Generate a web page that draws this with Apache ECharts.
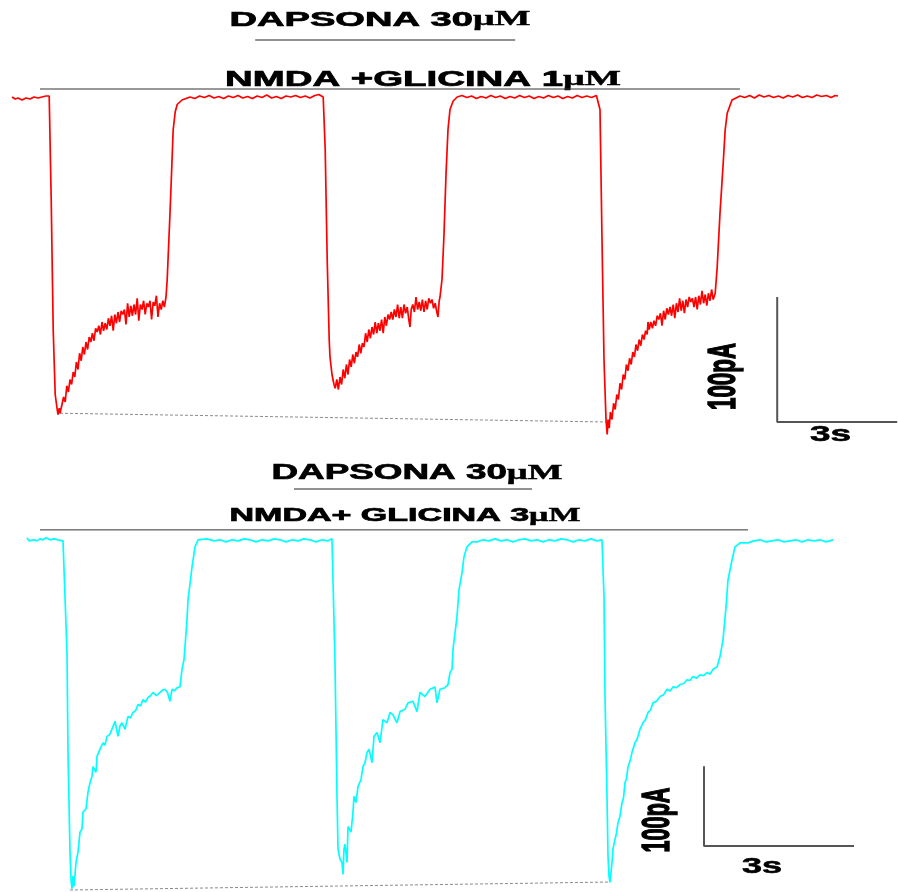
<!DOCTYPE html>
<html>
<head>
<meta charset="utf-8">
<script src="https://cdn.jsdelivr.net/npm/echarts@6/dist/echarts.min.js"></script>
<style>html,body{margin:0;padding:0;background:#fff;}#c{width:898px;height:892px;}</style>
</head>
<body>
<div id="c"></div>
<script>
// ---- data: time (s), current (pA) ----
const redTrace = [
[0,0],[0.08,-1.6],[0.15,-0.8],[0.25,-2.4],[0.35,-0.8],[0.45,-1.6],[0.55,0],[0.65,-0.8],[0.75,0],[0.85,0.8],[0.9,1.6],[0.93,0.8],
[0.98,-82],[1.03,-186],[1.08,-238],[1.13,-250],[1.15,-254],[1.18,-249],[1.2,-253],
[1.25,-246],[1.29,-240],[1.33,-244],[1.37,-231],[1.41,-236],[1.45,-226],[1.49,-230],[1.53,-220],[1.57,-224],[1.61,-212],[1.65,-218],
[1.69,-205],[1.73,-211],[1.77,-200],[1.81,-206],[1.85,-196],[1.89,-202],[1.93,-192],[1.97,-196],[2.01,-189],[2.05,-195],[2.09,-185],
[2.13,-188],[2.17,-183],[2.21,-190],[2.25,-180],[2.29,-187],[2.33,-181],[2.37,-186],[2.41,-177],[2.45,-183],[2.49,-175],[2.53,-187],
[2.57,-174],[2.61,-181],[2.65,-172],[2.69,-180],[2.73,-171],[2.77,-174],[2.81,-170],[2.85,-182],[2.89,-165],[2.93,-176],[2.97,-167],
[3.01,-175],[3.05,-166],[3.09,-174],[3.13,-161],[3.17,-179],[3.21,-166],[3.25,-170],[3.29,-163],[3.33,-174],[3.37,-165],[3.41,-168],
[3.45,-163],[3.49,-178],[3.53,-164],[3.57,-167],[3.61,-159],[3.65,-176],[3.69,-165],[3.73,-170],[3.77,-163],[3.81,-168],[3.85,-160],
[3.88,-146],[3.95,-93],[4.03,-26],[4.08,-12],[4.13,-6],[4.25,-2.4],
[4.45,0],[4.57,-1.2],[4.69,0.8],[4.81,-0.4],[4.93,1.2],[5.05,-0.8],[5.17,0.4],[5.29,-1.2],[5.41,0.8],[5.53,-0.4],[5.65,1.2],[5.77,-0.8],
[5.89,0.4],[6.01,-1.2],[6.13,0.8],[6.25,-0.4],[6.37,1.6],[6.49,-0.8],[6.61,0.4],[6.73,-1.2],[6.85,0.8],[6.97,0],[7.09,1.2],[7.21,-0.4],
[7.33,0.8],[7.45,-0.8],[7.57,1.2],[7.67,2],[7.78,0],
[7.83,-42],[7.88,-130],[7.93,-194],[7.95,-208],[8.0,-222],[8.05,-230],
[8.08,-233],[8.12,-226],[8.16,-234],[8.2,-224],[8.24,-230],[8.28,-218],[8.32,-225],[8.36,-214],[8.4,-222],[8.44,-210],[8.48,-216],
[8.52,-206],[8.56,-213],[8.6,-204],[8.64,-208],[8.68,-198],[8.72,-205],[8.76,-197],[8.8,-200],[8.84,-189],[8.88,-196],[8.92,-186],
[8.96,-193],[9.0,-184],[9.04,-190],[9.08,-180],[9.12,-189],[9.16,-181],[9.2,-187],[9.24,-178],[9.28,-189],[9.32,-176],[9.36,-183],
[9.4,-174],[9.44,-178],[9.48,-172],[9.52,-178],[9.56,-170],[9.6,-176],[9.64,-166],[9.68,-177],[9.72,-168],[9.76,-177],[9.8,-166],
[9.84,-173],[9.88,-168],[9.92,-178],[9.95,-184],[9.98,-170],[10.02,-166],[10.06,-172],[10.1,-160],[10.14,-170],[10.18,-164],[10.22,-171],
[10.26,-162],[10.3,-172],[10.34,-163],[10.38,-170],[10.42,-161],[10.46,-165],[10.5,-162],[10.54,-169],[10.58,-165],[10.62,-172],
[10.65,-176],[10.68,-163],[10.7,-160],
[10.75,-146],[10.8,-110],[10.85,-62],[10.9,-26],[10.95,-10],[11.03,-3.2],
[11.13,0],[11.25,1.2],[11.37,-0.4],[11.49,0.8],[11.61,-1.2],[11.73,0.4],[11.85,-0.8],[11.97,1.2],[12.09,-0.4],[12.21,0.8],[12.33,-1.2],
[12.45,0.4],[12.57,-0.8],[12.69,1.2],[12.81,-0.4],[12.93,0.8],[13.05,-1.2],[13.17,0.4],[13.29,-0.8],[13.41,1.2],[13.53,-0.4],[13.65,0.8],
[13.77,-1.2],[13.89,0.4],[14.01,-0.8],[14.13,1.2],[14.25,-0.4],[14.37,0.8],[14.49,-0.4],[14.61,1.2],[14.66,0.8],
[14.7,-10],[14.75,-114],[14.8,-210],[14.85,-258],
[14.88,-270],[14.9,-258],[14.93,-265],[14.96,-252],[15.0,-258],[15.04,-245],[15.08,-250],[15.12,-238],[15.16,-242],[15.2,-229],
[15.24,-234],[15.28,-222],[15.32,-226],[15.36,-214],[15.4,-219],[15.44,-209],[15.48,-214],[15.52,-204],[15.56,-208],[15.6,-198],
[15.64,-203],[15.68,-194],[15.72,-199],[15.76,-190],[15.8,-194],[15.84,-187],[15.88,-190],[15.9,-180],[15.93,-186],[15.97,-180],
[16.01,-185],[16.05,-179],[16.09,-183],[16.13,-175],[16.17,-178],[16.21,-173],[16.25,-183],[16.29,-171],[16.33,-178],[16.37,-169],
[16.41,-174],[16.45,-168],[16.49,-175],[16.53,-166],[16.57,-177],[16.61,-165],[16.65,-172],[16.69,-161],[16.73,-171],[16.77,-163],
[16.81,-173],[16.85,-162],[16.89,-168],[16.93,-160],[16.97,-164],[17.01,-161],[17.05,-168],[17.09,-160],[17.13,-170],[17.17,-159],
[17.21,-166],[17.25,-155],[17.29,-165],[17.33,-158],[17.37,-167],[17.41,-157],[17.45,-163],[17.49,-154],[17.53,-162],[17.58,-157],
[17.63,-136],[17.7,-93],[17.78,-53],[17.83,-26],[17.88,-13],[18,-2.4],
[18.2,0.8],[18.32,-0.4],[18.44,1.2],[18.56,-0.8],[18.68,1.6],[18.8,0],[18.92,1.2],[19.04,-0.4],[19.16,0.8],[19.28,-0.8],[19.4,1.2],
[19.52,0],[19.64,1.6],[19.76,-0.4],[19.88,0.8],[20.0,-0.4],[20.12,1.6],[20.24,0.4],[20.36,1.2],[20.48,-0.4],[20.58,1.2],[20.65,0.8]
];
const cyanTrace = [
[0.3,3.8],[0.34,0],[0.38,-2.5],[0.44,1.3],[0.5,0],[0.56,2.5],[0.62,1.3],[0.68,3.8],[0.76,1.3],[0.84,2.5],[0.92,1.3],[1.02,0],
[1.1,-140],[1.12,-265],[1.16,-390],[1.18,-424],[1.2,-436],[1.22,-420],[1.24,-433],[1.28,-403],[1.32,-390],[1.36,-365],[1.4,-361],[1.42,-340],
[1.48,-336],[1.52,-315],[1.56,-303],[1.6,-295],[1.62,-283],[1.68,-290],[1.7,-270],[1.76,-261],[1.82,-253],[1.86,-256],[1.9,-245],[1.95,-243],
[2,-236],[2.06,-226],[2.12,-245],[2.16,-232],[2.2,-228],[2.26,-236],[2.32,-220],[2.37,-222],[2.42,-215],[2.47,-213],[2.52,-205],[2.57,-207],
[2.62,-199],[2.67,-202],[2.72,-196],[2.77,-194],[2.82,-190],[2.89,-194],[2.96,-190],[3.01,-187],[3.06,-186],[3.11,-190],[3.16,-201],
[3.2,-186],[3.25,-188],[3.3,-184],[3.33,-186],[3.36,-183],
[3.4,-161],[3.44,-149],[3.5,-99],[3.52,-74],[3.6,-33],[3.66,-7.5],[3.72,1.3],[3.9,2.5],
[4.04,0],[4.16,1.3],[4.28,-1.3],[4.4,1.3],[4.52,0],[4.64,2.5],[4.76,1.3],[4.88,-1.3],[5.0,1.3],[5.12,0],[5.24,2.5],[5.36,1.3],[5.48,-1.3],
[5.6,1.3],[5.72,0],[5.84,2.5],[5.96,1.3],[6.08,-1.3],[6.2,1.3],[6.32,0],[6.4,2.5],
[6.42,0],[6.46,-153],[6.5,-320],[6.52,-386],[6.56,-399],[6.6,-403],[6.62,-418],[6.64,-386],[6.66,-380],[6.7,-403],[6.72,-358],[6.78,-365],
[6.82,-340],[6.84,-320],[6.88,-328],[6.92,-308],[6.98,-299],[7.02,-283],[7.06,-278],[7.1,-265],[7.14,-261],[7.2,-278],[7.24,-245],[7.3,-240],
[7.36,-253],[7.42,-224],[7.5,-228],[7.56,-215],[7.62,-218],[7.7,-228],[7.76,-214],[7.86,-211],[7.92,-203],[8.02,-201],[8.1,-214],[8.16,-190],
[8.26,-195],[8.36,-186],[8.46,-183],[8.5,-203],[8.56,-186],[8.66,-184],[8.72,-180],
[8.76,-165],[8.8,-161],[8.82,-136],[8.9,-95],[8.94,-61],[9,-40],[9.04,-20],[9.1,-7.5],[9.2,-1.3],[9.3,-1.3],
[9.42,1.3],[9.54,0],[9.66,2.5],[9.78,0],[9.9,1.3],[10.02,-1.3],[10.14,1.3],[10.26,2.5],[10.38,0],[10.5,1.3],[10.62,-1.3],[10.74,1.3],
[10.86,0],[10.98,2.5],[11.1,1.3],[11.22,-1.3],[11.34,1.3],[11.46,0],[11.58,2.5],[11.7,0],[11.8,1.3],
[11.82,0],[11.84,-70],[11.86,-195],[11.9,-320],[11.92,-395],[11.94,-420],[11.96,-428],[12,-403],[12.02,-386],[12.06,-374],[12.09,-366],
[12.12,-353],[12.16,-345],[12.2,-328],[12.23,-322],[12.26,-303],[12.29,-298],[12.32,-283],[12.36,-276],[12.4,-265],[12.46,-253],[12.5,-249],
[12.56,-236],[12.59,-238],[12.62,-228],[12.67,-224],[12.72,-215],[12.77,-212],[12.82,-203],[12.89,-201],[12.96,-195],[13.03,-193],[13.1,-186],
[13.16,-188],[13.22,-183],[13.29,-184],[13.36,-180],[13.43,-179],[13.5,-174],[13.56,-175],[13.62,-170],[13.69,-172],[13.76,-168],[13.83,-169],
[13.9,-165],[13.96,-167],[14.02,-161],[14.1,-158],
[14.16,-145],[14.22,-124],[14.28,-83],[14.32,-49],[14.4,-24],[14.46,-7.5],[14.56,-2.5],[14.72,-2.5],
[14.84,0],[14.96,1.3],[15.08,-1.3],[15.2,0],[15.32,1.3],[15.44,-1.3],[15.56,0],[15.68,1.3],[15.8,-1.3],[15.92,1.3],[16.04,0],
[16.16,1.3],[16.28,-1.3],[16.42,1.3]
];
const redPeakLine = [[1.2,-253],[14.88,-260]];
const cyanPeakLine = [[1.16,-437.5],[11.96,-427.5]];
const redDapsonaBar = [[6.08,45.6],[12.58,45.6]];
const redNmdaBar = [[0.7,6.4],[18.2,6.4]];
const cyanDapsonaBar = [[5.64,65],[10.4,65]];
const cyanNmdaBar = [[0.56,13.75],[14.72,13.75]];
const redScaleBar = [[19.13,-160],[19.13,-260],[22.13,-260]];
const cyanScaleBar = [[13.84,-282.5],[13.84,-382.5],[16.84,-382.5]];
const titleTexts = ['DAPSONA 30', 'NMDA +GLICINA 1', 'DAPSONA 30', 'NMDA+ GLICINA 3'];
const unitText = 'μM';
const scaleLabels = ['100pA', '3s'];

// ---- layout ----
const SANS = '"Liberation Sans", Arial, sans-serif';
const SERIF = '"Liberation Serif", "Times New Roman", serif';
const ctx = document.createElement('canvas').getContext('2d');
function w(text, size, fam){ ctx.font = 'bold ' + size + 'px ' + fam; return ctx.measureText(text).width; }

function title(mainText, size, cx, cy, width){
  const natural = w(mainText, size, SANS) + w(unitText, size, SERIF);
  return {
    type:'text', x:cx, y:cy, scaleX: width / natural,
    style:{
      text:'{a|' + mainText + '}{b|' + unitText + '}',
      align:'center', verticalAlign:'middle',
      rich:{
        a:{fontFamily:SANS, fontWeight:'bold', fontSize:size, fill:'#000', stroke:'#000', lineWidth:0.7},
        b:{fontFamily:SERIF, fontWeight:'bold', fontSize:size, fill:'#000', stroke:'#000', lineWidth:0.4}
      }
    }
  };
}
function hLabel(text, size, cx, cy, width){
  return {type:'text', x:cx, y:cy, scaleX: width / w(text,size,SANS),
    style:{text:text, font:'bold '+size+'px '+SANS, fill:'#000', stroke:'#000', lineWidth:0.6, align:'center', verticalAlign:'middle'}};
}
function vLabel(text, size, cx, cy, length, thick){
  return {type:'text', x:cx, y:cy, rotation:Math.PI/2, scaleX: length / w(text,size,SANS), scaleY: thick,
    style:{text:text, font:'bold '+size+'px '+SANS, fill:'#000', stroke:'#000', lineWidth:0.8, align:'center', verticalAlign:'middle'}};
}

function line(data, color, width, gi, type){
  return {type:'line', data:data, xAxisIndex:gi, yAxisIndex:gi, symbol:'none', clip:false, silent:true,
    lineStyle:{color:color, width:width, type:type||'solid'}, z: 2};
}

const chart = echarts.init(document.getElementById('c'), null, {renderer:'canvas'});
chart.setOption({
  animation:false,
  backgroundColor:'#fff',
  grid:[
    {left:12, top:17, width:886, height:430},
    {left:12, top:481, width:886, height:412}
  ],
  xAxis:[
    {type:'value', gridIndex:0, min:0, max:22.15, show:false},
    {type:'value', gridIndex:1, min:0, max:17.72, show:false}
  ],
  yAxis:[
    {type:'value', gridIndex:0, min:-280, max:64, show:false},
    {type:'value', gridIndex:1, min:-440, max:75, show:false}
  ],
  series:[
    line(redPeakLine, '#8a8a8a', 1, 0, [3,2]),
    line(cyanPeakLine, '#8a8a8a', 1, 1, [3,2]),
    line(redDapsonaBar, '#6e6e6e', 1.5, 0),
    line(redNmdaBar, '#333', 1, 0),
    line(cyanDapsonaBar, '#6e6e6e', 1.5, 1),
    line(cyanNmdaBar, '#333', 1, 1),
    line(redScaleBar, '#555', 2, 0),
    line(cyanScaleBar, '#555', 2, 1),
    line(redTrace, '#ff0000', 1.7, 0),
    line(cyanTrace, '#00ffff', 1.7, 1)
  ],
  graphic:[
    title(titleTexts[0], 20.5, 380, 20, 301),
    title(titleTexts[1], 22, 423, 79.5, 396),
    title(titleTexts[2], 22, 417, 473, 291),
    title(titleTexts[3], 18.5, 405, 516, 351),
    vLabel(scaleLabels[0], 21, 724, 376.5, 67, 1.85),
    hLabel(scaleLabels[1], 22, 830.5, 435, 41),
    vLabel(scaleLabels[0], 21, 658, 820, 65, 1.85),
    hLabel(scaleLabels[1], 22, 762, 866.5, 40)
  ]
});
</script>
</body>
</html>
